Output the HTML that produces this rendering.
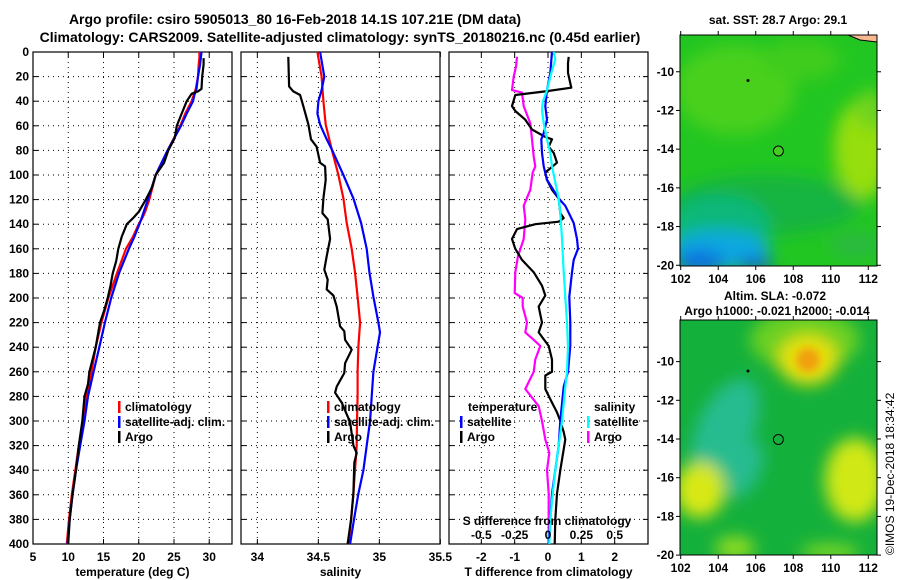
<!DOCTYPE html>
<html><head><meta charset="utf-8"><style>
body{margin:0;background:#fff;}
svg{display:block;font-family:"Liberation Sans",Arial,sans-serif;font-weight:bold;}
</style></head><body>
<svg id="fig" width="900" height="580" viewBox="0 0 900 580" xmlns="http://www.w3.org/2000/svg">
<defs>
<filter id="blur8" x="-50%" y="-50%" width="200%" height="200%"><feGaussianBlur stdDeviation="8"/></filter>
<filter id="blur4" x="-50%" y="-50%" width="200%" height="200%"><feGaussianBlur stdDeviation="4"/></filter>
<clipPath id="clipTop"><rect x="680" y="35" width="197" height="231"/></clipPath>
<clipPath id="clipBot"><rect x="680" y="320" width="197" height="235"/></clipPath>
</defs>
<text x="295" y="24" font-size="14" text-anchor="middle">Argo profile: csiro 5905013_80 16-Feb-2018 14.1S 107.21E (DM data)</text>
<text x="340" y="42" font-size="14" text-anchor="middle">Climatology: CARS2009. Satellite-adjusted climatology: synTS_20180216.nc (0.45d earlier)</text>

<g clip-path="url(#clipTop)">
<rect x="680" y="35" width="197" height="231" fill="#22c622"/>
<g filter="url(#blur8)">
<ellipse cx="735" cy="90" rx="60" ry="45" fill="#48d01c"/>
<ellipse cx="800" cy="60" rx="40" ry="20" fill="#40cc1c"/>
<ellipse cx="862" cy="150" rx="28" ry="50" fill="#96de10"/>
<ellipse cx="870" cy="110" rx="15" ry="20" fill="#70d41a"/>
<ellipse cx="765" cy="205" rx="95" ry="30" fill="#14b440"/>
<ellipse cx="720" cy="225" rx="50" ry="30" fill="#0cb87a"/>
<ellipse cx="720" cy="250" rx="50" ry="20" fill="#08a8e0"/>
<ellipse cx="700" cy="262" rx="25" ry="12" fill="#1070e0"/>
<ellipse cx="755" cy="264" rx="18" ry="6" fill="#1050d0"/>
<ellipse cx="855" cy="245" rx="25" ry="12" fill="#2ab842"/>
</g>
<path d="M848 35 L877 35 L877 42 L860 40 Z" fill="#f8b890" stroke="#000" stroke-width="1"/>
<circle cx="778.4" cy="151" r="5" fill="#44cc22" stroke="#000"/>
<circle cx="748" cy="80.5" r="1.5" fill="#000"/>
</g>
<rect x="680" y="35" width="197" height="231" fill="none" stroke="#000"/>
<text x="778" y="24" font-size="12" text-anchor="middle">sat. SST: 28.7 Argo: 29.1</text>

<g clip-path="url(#clipBot)">
<rect x="680" y="320" width="197" height="235" fill="#14b03c"/>
<g filter="url(#blur8)">
<ellipse cx="805" cy="340" rx="55" ry="30" fill="#6cd020"/>
<ellipse cx="808" cy="360" rx="30" ry="25" fill="#e8e010"/>
<ellipse cx="725" cy="430" rx="28" ry="55" fill="#26bc90" transform="rotate(25 725 430)"/>
<ellipse cx="745" cy="470" rx="15" ry="30" fill="#26bc90" transform="rotate(25 745 470)"/>
<ellipse cx="700" cy="490" rx="25" ry="28" fill="#d8e818"/>
<ellipse cx="855" cy="480" rx="30" ry="42" fill="#d0e818"/>
<ellipse cx="735" cy="548" rx="20" ry="12" fill="#90dc20"/>
<ellipse cx="830" cy="552" rx="30" ry="8" fill="#80d820"/>
</g>
<g filter="url(#blur4)"><circle cx="808" cy="360" r="12" fill="#f0a010"/></g>
<circle cx="778.4" cy="439.5" r="5" fill="none" stroke="#000"/>
<circle cx="748" cy="371" r="1.5" fill="#000"/>
</g>
<rect x="680" y="320" width="197" height="235" fill="none" stroke="#000"/>
<text x="775" y="300" font-size="12" text-anchor="middle">Altim. SLA: -0.072</text>
<text x="777" y="315" font-size="12" text-anchor="middle">Argo h1000: -0.021 h2000: -0.014</text>
<text transform="translate(894 555) rotate(-90)" font-size="12" font-weight="normal">©IMOS 19-Dec-2018 18:34:42</text>
</svg>
<script>
// ---- data ----
const tempDepthClim = [0,5,10,20,30,35,40,50,60,80,100,120,130,135,140,150,160,180,200,220,240,260,280,300,320,340,360,380,400];
const tempClim = [28.6,28.6,28.5,28.4,28.1,27.8,27.5,26.6,25.9,24.1,22.4,21.5,20.9,20.5,20.0,19.2,18.2,16.9,15.7,14.7,13.9,13.3,12.6,12.1,11.5,11.0,10.5,10.1,9.8];
const tempSat = [28.9,28.8,28.7,28.4,28.2,27.9,27.7,26.8,26.0,24.1,22.4,21.3,20.7,20.4,20.1,19.4,18.6,17.2,16.1,15.2,14.4,13.6,12.8,12.3,11.7,11.1,10.6,10.2,9.9];
const tempDepthArgo = [5,10,20,30,32,34,40,50,60,70,80,90,100,110,120,130,135,140,150,160,170,180,190,200,210,220,240,260,270,280,300,320,340,360,380,400];
const tempArgo = [29.2,29.2,29.0,28.9,28.4,27.5,26.8,26.1,25.4,25.1,24.2,23.6,22.4,21.9,21.0,20.0,19.2,18.3,17.6,17.1,16.8,16.3,16.0,15.6,15.1,14.5,13.9,13.0,12.8,12.3,12.0,11.5,11.1,10.6,10.2,10.0];

const salDepthClim = [0,20,40,59,79,100,119,139,160,179,199,220,239,260,280,300,320,340,359,380,400];
const salClim = [34.492,34.527,34.541,34.56,34.609,34.664,34.705,34.732,34.773,34.8,34.822,34.842,34.828,34.822,34.822,34.817,34.814,34.8,34.787,34.768,34.746];
const salDepthSat = [0,20,31,40,50,59,71,79,100,119,139,160,179,199,220,228,239,260,280,300,320,340,359,380,400];
const salSat = [34.514,34.549,34.527,34.5,34.492,34.514,34.568,34.609,34.705,34.787,34.85,34.896,34.918,34.951,34.992,35.005,34.986,34.951,34.937,34.924,34.896,34.869,34.828,34.792,34.76];
const salDepthArgo = [4,28,32,35,44,59,71,77,90,93,104,119,131,136,152,166,177,185,193,198,207,223,227,234,242,253,261,272,277,285,301,320,326,334,359,380,400];
const salArgo = [34.254,34.26,34.295,34.35,34.377,34.418,34.44,34.486,34.514,34.555,34.56,34.541,34.533,34.577,34.596,34.568,34.549,34.577,34.568,34.623,34.65,34.678,34.713,34.719,34.773,34.719,34.713,34.65,34.637,34.691,34.76,34.787,34.814,34.795,34.787,34.768,34.74];

const dTDepthSat = [0,17,31,44,55,66,71,82,93,104,119,125,139,152,160,169,179,199,220,239,260,272,300,320,340,359,380,400];
const dTSat = [0.12,0.07,-0.03,-0.08,-0.03,-0.13,-0.2,-0.18,-0.13,-0.03,0.32,0.52,0.77,0.87,0.9,0.77,0.72,0.64,0.67,0.67,0.6,0.47,0.37,0.32,0.22,0.12,0.07,0.02];
const dTDepthArgo = [4,9,17,29,32,35,44,48,55,63,69,71,77,82,90,98,104,112,119,131,135,138,140,144,152,160,169,179,190,198,207,220,228,239,250,260,263,274,285,293,300,309,315,323,340,359,380,400];
const dTArgo = [0.62,0.6,0.6,0.7,-0.08,-0.98,-1.08,-0.98,-0.68,-0.48,-0.08,0.12,0.02,0.17,0.27,-0.08,-0.03,0.12,0.32,0.37,0.47,0.32,-0.38,-0.93,-1.08,-0.98,-0.78,-0.43,-0.18,-0.08,-0.28,-0.18,-0.28,0.02,0.12,0.12,-0.08,-0.08,0.12,0.27,0.37,0.47,0.52,0.47,0.37,0.27,0.22,0.2];
const dSDepthSat = [0,6,17,31,41,47,58,71,82,93,106,119,131,152,179,199,220,239,260,272,300,320,340,359,380,400];
const dSSat = [0.0425,0.055,0.025,-0.0075,-0.04,-0.045,-0.0325,-0.0075,0.0175,0.03,0.055,0.08,0.0925,0.105,0.1175,0.13,0.1425,0.15,0.1425,0.13,0.105,0.08,0.055,0.035,0.0175,0.01];
const dSDepthArgo = [4,12,20,31,33,44,58,71,85,93,98,112,125,136,152,166,179,196,200,207,220,228,234,239,250,260,274,288,300,315,326,340,359,380,400];
const dSArgo = [-0.2325,-0.24,-0.2575,-0.27,-0.195,-0.1825,-0.1325,-0.12,-0.1075,-0.095,-0.115,-0.1325,-0.1825,-0.17,-0.1825,-0.225,-0.245,-0.25,-0.19,-0.19,-0.1575,-0.17,-0.1075,-0.0575,-0.095,-0.1075,-0.17,-0.07,-0.045,-0.02,0.01,-0.0075,0.005,0.005,0.005];

const depthTicks = [0,20,40,60,80,100,120,140,160,180,200,220,240,260,280,300,320,340,360,380,400];
const tempTicks = [5,10,15,20,25,30];
const salTicks = [34,34.5,35,35.5];
const dTTicks = [-2,-1,0,1,2];
const dSTicks = [-0.5,-0.25,0,0.25,0.5];
const dSTickLabels = ['-0.5','-0.25','0','0.25','0.5'];
const mapLonTicks = [102,104,106,108,110,112];
const mapLatTicks = [-10,-12,-14,-16,-18,-20];

// ---- drawing ----
const NS = 'http://www.w3.org/2000/svg';
const svg = document.getElementById('fig');
function mk(tag, attrs, parent){ const e=document.createElementNS(NS,tag); for(const k in attrs) e.setAttribute(k,attrs[k]); (parent||svg).appendChild(e); return e; }

const Y0=52, Y1=544;
function yScale(d){ return Y0 + d/400*(Y1-Y0); }
function xScaleFn(p){ return v => p.x0 + (v-p.vmin)/(p.vmax-p.vmin)*(p.x1-p.x0); }
const P1={x0:33,x1:232,vmin:5,vmax:33.23};
const P2={x0:241,x1:440,vmin:33.866,vmax:35.497};
const P3={x0:449,x1:648,vmin:-2.97,vmax:3.0};
const P3S={x0:449,x1:648,vmin:-2.97/4,vmax:3.0/4};

function panel(p, name, xticks, xlabels, xtitle, showY){
  const g = mk('g',{});
  
  
  const xs = xScaleFn(p);
  depthTicks.forEach(d=>{
    const y=yScale(d);
    if(d>0&&d<400){
      const gl=mk('line',{x1:p.x0,x2:p.x1,y1:y,y2:y,stroke:'#000','stroke-width':1,'stroke-dasharray':'1,4'},g);
      
      
    }
    mk('line',{x1:p.x0,x2:p.x0+5,y1:y,y2:y,stroke:'#000'},g);
    mk('line',{x1:p.x1-5,x2:p.x1,y1:y,y2:y,stroke:'#000'},g);
    if(showY){
      const t=mk('text',{x:p.x0-4,y:y+4,'font-size':12,'text-anchor':'end'},g);
      t.textContent=d;
      
      
    }
  });
  xticks.forEach((v,i)=>{
    const x=xs(v);
    if(x>p.x0+1&&x<p.x1-1){
      const gl=mk('line',{x1:x,x2:x,y1:Y0,y2:Y1,stroke:'#000','stroke-width':1,'stroke-dasharray':'1,4'},g);
      
      
    }
    mk('line',{x1:x,x2:x,y1:Y1,y2:Y1-5,stroke:'#000'},g);
    mk('line',{x1:x,x2:x,y1:Y0,y2:Y0+5,stroke:'#000'},g);
    const t=mk('text',{x:x,y:561,'font-size':12,'text-anchor':'middle'},g);
    t.textContent=xlabels[i];
    
    
  });
  mk('rect',{x:p.x0,y:Y0,width:p.x1-p.x0,height:Y1-Y0,fill:'none',stroke:'#000','stroke-width':1.2},g);
  const tt=mk('text',{x:(p.x0+p.x1)/2,y:576,'font-size':12,'text-anchor':'middle'},g);
  tt.textContent=xtitle;
  
  
  return g;
}
function series(p, vals, depths, color, name){
  const xs=xScaleFn(p);
  const pts=vals.map((v,i)=>xs(v).toFixed(1)+','+yScale(depths[i]).toFixed(1)).join(' ');
  const l=mk('polyline',{points:pts,fill:'none',stroke:color,'stroke-width':2.2,'stroke-linejoin':'round'});
  
  
}
function legend(x, y, items, name){
  const g=mk('g',{});
  
  
  items.forEach((it,i)=>{
    const yy=y+i*15;
    if(it.c){ mk('rect',{x:x,y:yy-10,width:2.5,height:12,fill:it.c},g); }
    const t=mk('text',{x:x+(it.c?7:0),y:yy,'font-size':12},g);
    t.textContent=it.t;
  });
}

panel(P1,'temperature-panel',tempTicks,tempTicks.map(String),'temperature (deg C)',true);
panel(P2,'salinity-panel',salTicks,salTicks.map(String),'salinity',false);
panel(P3,'difference-panel',dTTicks,dTTicks.map(String),'T difference from climatology',false);

series(P1,tempClim,tempDepthClim,'#ff0000','temp-climatology-line');
series(P1,tempSat,tempDepthClim,'#0000ff','temp-satellite-line');
series(P1,tempArgo,tempDepthArgo,'#000000','temp-argo-line');
series(P2,salClim,salDepthClim,'#ff0000','sal-climatology-line');
series(P2,salSat,salDepthSat,'#0000ff','sal-satellite-line');
series(P2,salArgo,salDepthArgo,'#000000','sal-argo-line');
series(P3S,dSArgo,dSDepthArgo,'#ff00ff','dS-argo-line');
series(P3,dTArgo,dTDepthArgo,'#000000','dT-argo-line');
series(P3,dTSat,dTDepthSat,'#0000ff','dT-satellite-line');
series(P3S,dSSat,dSDepthSat,'#00ffff','dS-satellite-line');

const xsS=xScaleFn(P3S);
const st=mk('text',{x:547,y:525,'font-size':12,'text-anchor':'middle'});
st.textContent='S difference from climatology';


dSTicks.forEach((v,i)=>{
  const t=mk('text',{x:xsS(v),y:539,'font-size':12,'text-anchor':'middle'});
  t.textContent=dSTickLabels[i];
  
  
});

legend(118,411,[{c:'#ff0000',t:'climatology'},{c:'#0000ff',t:'satellite-adj. clim.'},{c:'#000',t:'Argo'}],'temperature-legend');
legend(327,411,[{c:'#ff0000',t:'climatology'},{c:'#0000ff',t:'satellite-adj. clim.'},{c:'#000',t:'Argo'}],'salinity-legend');
legend(468,411,[{t:'temperature'}],'diff-legend-temp-title');
legend(460,426,[{c:'#0000ff',t:'satellite'},{c:'#000',t:'Argo'}],'diff-legend-temperature');
legend(594,411,[{t:'salinity'}],'diff-legend-sal-title');
legend(587,426,[{c:'#00ffff',t:'satellite'},{c:'#ff00ff',t:'Argo'}],'diff-legend-salinity');

function mapAxes(y0,y1,latTop,name){
  const lonX = v => 680.7 + (v-102)*18.76;
  const latY = v => y0 + (latTop - v)*19.35;
  const g=mk('g',{});
  
  
  mapLonTicks.forEach(v=>{
    const x=lonX(v);
    mk('line',{x1:x,x2:x,y1:y1,y2:y1+4,stroke:'#000'},g);
    mk('line',{x1:x,x2:x,y1:y0,y2:y0-4,stroke:'#000'},g);
    const t=mk('text',{x:x,y:y1+17,'font-size':12,'text-anchor':'middle'},g);
    t.textContent=v;
  });
  mapLatTicks.forEach(v=>{
    const y=latY(v);
    if(y>y1+2) return;
    mk('line',{x1:676,x2:680,y1:y,y2:y,stroke:'#000'},g);
    mk('line',{x1:877,x2:881,y1:y,y2:y,stroke:'#000'},g);
    const t=mk('text',{x:674,y:y+4,'font-size':12,'text-anchor':'end'},g);
    t.textContent=v;
  });
}
mapAxes(35,266,-8.1,'sst-map-axes');
mapAxes(320,555,-7.85,'sla-map-axes');
</script>
</body></html>
